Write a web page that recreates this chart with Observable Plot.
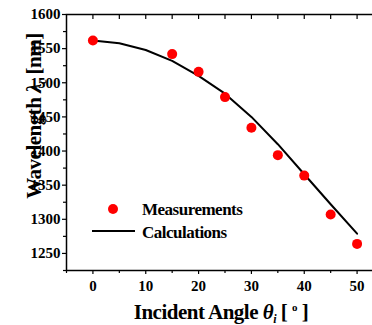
<!DOCTYPE html>
<html><head><meta charset="utf-8">
<script src="https://cdn.jsdelivr.net/npm/d3@7"></script>
<script src="https://cdn.jsdelivr.net/npm/@observablehq/plot@0.6"></script>
<style>
body{margin:0;overflow:hidden;background:#fff}
#chart svg{display:block;overflow:visible;max-width:none !important}
</style>
</head><body><div id="chart"></div><script>
// Measured resonance wavelength vs. incident angle
const measAngles = [0, 15, 20, 25, 30, 35, 40, 45, 50];
const measWavelengths = [1562, 1542, 1516, 1479, 1434, 1394, 1364, 1307, 1264];
// Calculated curve
const calcAngles = [0, 5, 10, 15, 20, 25, 30, 35, 40, 45, 50];
const calcWavelengths = [1562, 1558, 1548, 1532, 1510, 1484, 1450, 1410, 1366, 1322, 1279];
// Axis ticks
const xTicks = [0, 10, 20, 30, 40, 50];
const xMinorTicks = [-5, 5, 15, 25, 35, 45, 55];
const xTopTicks = [0, 5, 10, 15, 20, 25, 30, 35, 40, 45, 50];
const yTicks = [1250, 1300, 1350, 1400, 1450, 1500, 1550, 1600];
const yMinorTicks = [1225, 1275, 1325, 1375, 1425, 1475, 1525, 1575];

const meas = measAngles.map((a, i) => ({angle: a, wl: measWavelengths[i]}));
const calc = calcAngles.map((a, i) => ({angle: a, wl: calcWavelengths[i]}));

const font = '"Liberation Serif", "Times New Roman", serif';
const plain = d => String(d);

const chart = Plot.plot({
  width: 390,
  height: 325,
  marginLeft: 66,
  marginRight: 7,
  marginTop: 14,
  marginBottom: 55,
  style: {fontFamily: font, fontWeight: "bold", fontSize: "15px", color: "#000", background: "#fff"},
  x: {domain: [-5, 55]},
  y: {domain: [1225, 1600]},
  marks: [
    Plot.frame({stroke: "#000", strokeWidth: 1.5}),
    Plot.axisY(yTicks, {tickSize: 4, tickPadding: 2, tickFormat: plain, label: null, strokeWidth: 1.2}),
    Plot.axisY(yMinorTicks, {tickSize: 3, text: null, label: null, strokeWidth: 1.2}),
    Plot.axisX(xTicks, {tickSize: 4, tickPadding: 6, tickFormat: plain, label: null, strokeWidth: 1.2}),
    Plot.axisX(xMinorTicks, {tickSize: 3, text: null, label: null, strokeWidth: 1.2}),
    Plot.axisX(xTopTicks, {anchor: "top", tickSize: -4, text: null, label: null, strokeWidth: 1.2}),
    Plot.line(calc, {x: "angle", y: "wl", stroke: "#000", strokeWidth: 2}),
    Plot.dot(meas, {x: "angle", y: "wl", r: 5, fill: "#ff0000", stroke: "none"})
  ]
});
chart.style.maxWidth = "none";

document.getElementById("chart").append(chart);

const svg = d3.select(chart);

// Axis titles
const xt = svg.append("text")
  .attr("x", 221).attr("y", 319)
  .attr("text-anchor", "middle")
  .style("font-family", font).style("font-weight", "bold")
  .style("font-size", "21px").style("letter-spacing", "-0.5px")
  .attr("fill", "#000");
xt.append("tspan").text("Incident Angle ");
xt.append("tspan").text("θ").style("font-style", "italic");
xt.append("tspan").text("i").style("font-style", "italic").style("font-size", "12px").attr("dy", 4);
xt.append("tspan").text(" [ ").attr("dy", -4);
xt.append("tspan").text("o").style("font-size", "11px").attr("dy", -8);
xt.append("tspan").text(" ]").attr("dy", 8);

const yt = svg.append("text")
  .attr("transform", "translate(41,116) rotate(-90)")
  .attr("text-anchor", "middle")
  .style("font-family", font).style("font-weight", "bold")
  .style("font-size", "21px").style("letter-spacing", "-0.5px")
  .attr("fill", "#000");
yt.append("tspan").text("Wavelength ");
yt.append("tspan").text("λ").style("font-style", "italic");
yt.append("tspan").text("c").style("font-style", "italic").style("font-size", "12px").attr("dy", 5);
yt.append("tspan").text(" [nm]").attr("dy", -5);

// Legend
const lg = svg.append("g")
  .attr("text-anchor", "start")
  .style("font-family", font).style("font-weight", "bold")
  .style("font-size", "17px").style("letter-spacing", "-0.5px");
lg.append("circle").attr("cx", 113).attr("cy", 209).attr("r", 5).attr("fill", "#ff0000");
lg.append("text").attr("x", 142).attr("y", 215).attr("fill", "#000").text("Measurements");
lg.append("line").attr("x1", 92).attr("x2", 135).attr("y1", 231).attr("y2", 231)
  .attr("stroke", "#000").attr("stroke-width", 2);
lg.append("text").attr("x", 142).attr("y", 238).attr("fill", "#000").text("Calculations");
</script></body></html>
